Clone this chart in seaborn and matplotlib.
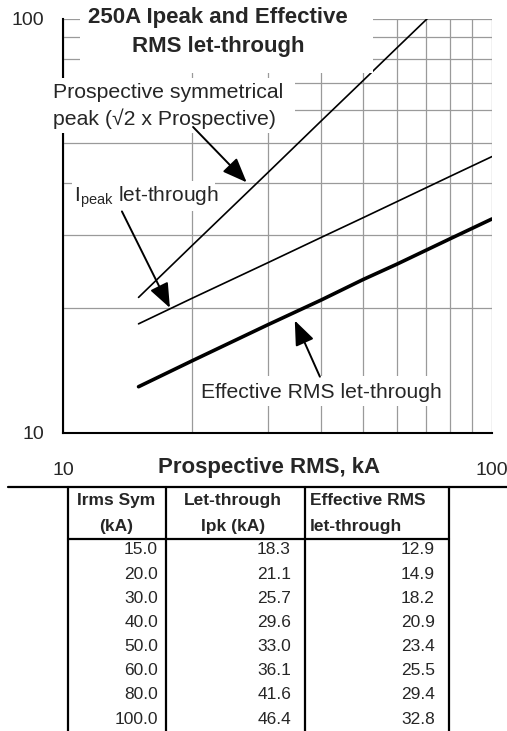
import numpy as np
import pandas as pd
import matplotlib
matplotlib.use("Agg")
import matplotlib.pyplot as plt
from matplotlib.patches import Rectangle
from matplotlib.lines import Line2D
from matplotlib.ticker import NullFormatter, FixedFormatter, FixedLocator
import seaborn as sns

# ---------------- data ----------------
irms_sym = [15.0, 20.0, 30.0, 40.0, 50.0, 60.0, 80.0, 100.0]
ipk_let_through = [18.3, 21.1, 25.7, 29.6, 33.0, 36.1, 41.6, 46.4]
eff_rms_let_through = [12.9, 14.9, 18.2, 20.9, 23.4, 25.5, 29.4, 32.8]
prospective_peak = [21.2, 28.3, 42.4, 56.6, 70.7, 84.9, 113.1, 141.4]

title_text = "250A Ipeak and Effective\nRMS let-through"
xlabel_text = "Prospective RMS, kA"
x_ticks = [10, 100]
y_ticks = [10, 100]
table_headers = ["Irms Sym\n(kA)", "Let-through\nIpk (kA)", "Effective RMS\nlet-through"]

# ---------------- style ----------------
sns.set_style("white")
plt.rcParams["font.family"] = ["Liberation Sans", "DejaVu Sans"]
plt.rcParams["mathtext.fontset"] = "custom"
plt.rcParams["mathtext.rm"] = "Liberation Sans"

W, H = 507, 731
fig = plt.figure(figsize=(W / 100, H / 100), dpi=100)


def fx(px):
    return px / W


def fy(py):
    return 1 - py / H


ax_l, ax_r, ax_t, ax_b = 63, 492, 18.5, 432.5
ax = fig.add_axes([fx(ax_l), fy(ax_b), fx(ax_r - ax_l), (ax_b - ax_t) / H])

df = pd.DataFrame({
    "irms": irms_sym * 3,
    "value": prospective_peak + ipk_let_through + eff_rms_let_through,
    "series": (["Prospective peak"] * len(irms_sym) + ["Ipeak let-through"] * len(irms_sym)
               + ["Effective RMS let-through"] * len(irms_sym)),
})

sns.lineplot(data=df, x="irms", y="value", hue="series", size="series",
             sizes={"Prospective peak": 1.2, "Ipeak let-through": 1.2,
                    "Effective RMS let-through": 2.6},
             palette={"Prospective peak": "black", "Ipeak let-through": "black",
                      "Effective RMS let-through": "black"},
             legend=False, ax=ax, zorder=4)

ax.set_xscale("log")
ax.set_yscale("log")
ax.set_xlim(10, 100)
ax.set_ylim(10, 100)

minor_vals = [20, 30, 40, 50, 60, 70, 80, 90]
for axis, ticks in ((ax.xaxis, x_ticks), (ax.yaxis, y_ticks)):
    axis.set_major_locator(FixedLocator(ticks))
    axis.set_major_formatter(FixedFormatter([str(t) for t in ticks]))
    axis.set_minor_locator(FixedLocator(minor_vals))
    axis.set_minor_formatter(NullFormatter())

ax.tick_params(which="minor", length=0)
ax.tick_params(axis="x", which="major", direction="out", length=6, width=1.4,
               color="black", labelsize=14, pad=15)
ax.tick_params(axis="y", which="major", direction="out", length=4.5, width=1.4,
               color="black", labelsize=14, pad=9)
ax.grid(which="both", color="#9a9a9a", linewidth=0.9)
ax.set_axisbelow(True)
for s in ["top", "right"]:
    ax.spines[s].set_visible(False)
for s in ["left", "bottom"]:
    ax.spines[s].set_color("black")
    ax.spines[s].set_linewidth(1.5)
ax.set_ylabel("")
ax.set_xlabel(xlabel_text, fontsize=16, fontweight="bold")
ax.xaxis.set_label_coords((269 - ax_l) / (ax_r - ax_l), -(467 - ax_b) / (ax_b - ax_t))
ax.xaxis.label.set_va("center")


def white_box(x0, y0, x1, y1):
    ax.add_patch(Rectangle((fx(x0), fy(y1)), fx(x1 - x0), (y1 - y0) / H,
                           transform=fig.transFigure, facecolor="white",
                           edgecolor="none", clip_on=False, zorder=5))


# title box
white_box(80, 0, 373, 73)
ax.text(fx(218), fy(32), title_text, transform=fig.transFigure, ha="center", va="center",
        fontsize=16, fontweight="bold", linespacing=1.45, zorder=6)

# prospective label
white_box(50, 78, 295, 133)
ax.text(fx(53), fy(106), "Prospective symmetrical\npeak (\u221a2 x Prospective)",
        transform=fig.transFigure, ha="left", va="center", fontsize=15.3,
        linespacing=1.4, zorder=6)

# Ipeak label
white_box(72, 181, 215, 211)
ax.text(fx(74), fy(197), r"I$_{\mathregular{peak}}$ let-through", transform=fig.transFigure,
        ha="left", va="center", fontsize=15, zorder=6)

# effective label
white_box(199, 376, 446, 406)
ax.text(fx(201), fy(393), "Effective RMS let-through", transform=fig.transFigure,
        ha="left", va="center", fontsize=15.2, zorder=6)

arrow_kw = dict(arrowstyle="-|>,head_length=0.75,head_width=0.3", color="black",
                lw=1.4, shrinkA=0, shrinkB=0, mutation_scale=20)
ax.annotate("", xy=(26.8, 40.2), xytext=(20.1, 54.7), arrowprops=arrow_kw,
            annotation_clip=False, zorder=7)
ax.annotate("", xy=(17.75, 20.0), xytext=(13.72, 34.2), arrowprops=arrow_kw,
            annotation_clip=False, zorder=7)
ax.annotate("", xy=(34.7, 18.64), xytext=(39.7, 13.64), arrowprops=arrow_kw,
            annotation_clip=False, zorder=7)

# ---------------- table ----------------
def hline(x0, x1, y, lw=1.6):
    fig.add_artist(Line2D([fx(x0), fx(x1)], [fy(y), fy(y)], color="black", lw=lw))


def vline(x, y0, y1, lw=1.6):
    fig.add_artist(Line2D([fx(x), fx(x)], [fy(y0), fy(y1)], color="black", lw=lw))


hline(8, 507, 487)
hline(68, 449, 539)
for xc in [68, 166, 305, 449]:
    vline(xc, 487, 731)

hdr_size = 12.5
for text, xpos, ha in ((table_headers[0], 116, "center"),
                       (table_headers[1], 233, "center"),
                       (table_headers[2], 310, "left")):
    fig.text(fx(xpos), fy(513.5), text, ha=ha, va="center",
             fontsize=hdr_size, fontweight="bold", linespacing=1.85)

row_y0, row_dy = 550, 24.15
for i, (a, b, c) in enumerate(zip(irms_sym, ipk_let_through, eff_rms_let_through)):
    yy = fy(row_y0 + i * row_dy)
    fig.text(fx(158), yy, f"{a:.1f}", ha="right", va="center", fontsize=12.5)
    fig.text(fx(291), yy, f"{b:.1f}", ha="right", va="center", fontsize=12.5)
    fig.text(fx(435), yy, f"{c:.1f}", ha="right", va="center", fontsize=12.5)

fig.savefig("out.png", dpi=100, facecolor="white")
